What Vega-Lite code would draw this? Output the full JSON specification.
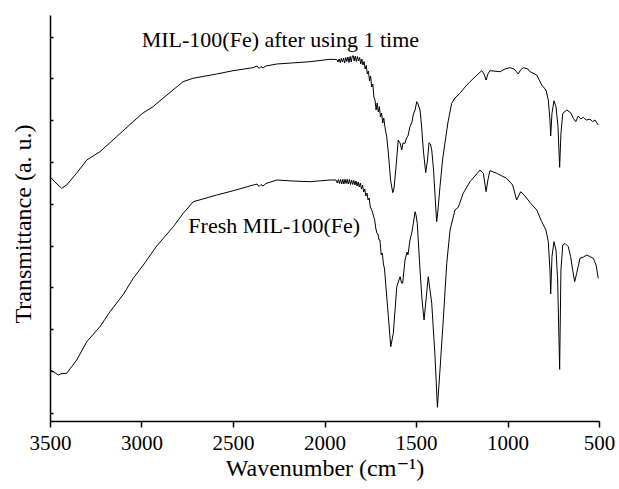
{
  "$schema": "https://vega.github.io/schema/vega-lite/v6.json",
  "width": 549,
  "height": 406,
  "autosize": "none",
  "padding": {"left": 50, "top": 15, "right": 20, "bottom": 68},
  "background": "white",
  "config": {
    "view": {"stroke": null},
    "font": "Liberation Serif",
    "axis": {
      "grid": false,
      "domainColor": "black",
      "tickColor": "black",
      "labelColor": "black",
      "titleColor": "black",
      "labelFont": "Liberation Serif",
      "titleFont": "Liberation Serif, DejaVu Serif, serif",
      "titleFontWeight": "normal",
      "domainWidth": 1.5,
      "tickWidth": 1.5
    }
  },
  "datasets": {
    "spectra": [
      {"s": "used", "wn": 3500, "t": 244.3},
      {"s": "used", "wn": 3473, "t": 239},
      {"s": "used", "wn": 3436, "t": 232.7},
      {"s": "used", "wn": 3409, "t": 236},
      {"s": "used", "wn": 3354, "t": 248},
      {"s": "used", "wn": 3299, "t": 261},
      {"s": "used", "wn": 3227, "t": 269.3},
      {"s": "used", "wn": 3136, "t": 284.3},
      {"s": "used", "wn": 3046, "t": 299.3},
      {"s": "used", "wn": 2992, "t": 308},
      {"s": "used", "wn": 2937, "t": 314.3},
      {"s": "used", "wn": 2883, "t": 322.7},
      {"s": "used", "wn": 2828, "t": 331},
      {"s": "used", "wn": 2773, "t": 339.3},
      {"s": "used", "wn": 2719, "t": 342.7},
      {"s": "used", "wn": 2589, "t": 347},
      {"s": "used", "wn": 2500, "t": 350.3},
      {"s": "used", "wn": 2391, "t": 353.3},
      {"s": "used", "wn": 2369, "t": 355},
      {"s": "used", "wn": 2358, "t": 352.5},
      {"s": "used", "wn": 2347, "t": 354.5},
      {"s": "used", "wn": 2336, "t": 353},
      {"s": "used", "wn": 2320, "t": 355},
      {"s": "used", "wn": 2261, "t": 357},
      {"s": "used", "wn": 2079, "t": 359.3},
      {"s": "used", "wn": 1970, "t": 361.7},
      {"s": "used", "wn": 1933, "t": 361.5},
      {"s": "used", "wn": 1926, "t": 359},
      {"s": "used", "wn": 1920, "t": 362},
      {"s": "used", "wn": 1914, "t": 358.5},
      {"s": "used", "wn": 1908, "t": 362.5},
      {"s": "used", "wn": 1902, "t": 359},
      {"s": "used", "wn": 1896, "t": 363},
      {"s": "used", "wn": 1890, "t": 358},
      {"s": "used", "wn": 1884, "t": 363.5},
      {"s": "used", "wn": 1878, "t": 359.5},
      {"s": "used", "wn": 1872, "t": 364},
      {"s": "used", "wn": 1866, "t": 358.5},
      {"s": "used", "wn": 1860, "t": 364.5},
      {"s": "used", "wn": 1854, "t": 359},
      {"s": "used", "wn": 1848, "t": 365},
      {"s": "used", "wn": 1843, "t": 365.3},
      {"s": "used", "wn": 1838, "t": 360},
      {"s": "used", "wn": 1832, "t": 365},
      {"s": "used", "wn": 1826, "t": 359.5},
      {"s": "used", "wn": 1820, "t": 364.5},
      {"s": "used", "wn": 1814, "t": 360},
      {"s": "used", "wn": 1808, "t": 363.5},
      {"s": "used", "wn": 1802, "t": 357},
      {"s": "used", "wn": 1796, "t": 362},
      {"s": "used", "wn": 1790, "t": 356},
      {"s": "used", "wn": 1784, "t": 359.5},
      {"s": "used", "wn": 1778, "t": 352},
      {"s": "used", "wn": 1772, "t": 355.5},
      {"s": "used", "wn": 1766, "t": 347},
      {"s": "used", "wn": 1760, "t": 350},
      {"s": "used", "wn": 1754, "t": 340},
      {"s": "used", "wn": 1748, "t": 345},
      {"s": "used", "wn": 1742, "t": 334},
      {"s": "used", "wn": 1736, "t": 337},
      {"s": "used", "wn": 1730, "t": 324},
      {"s": "used", "wn": 1724, "t": 321},
      {"s": "used", "wn": 1718, "t": 311},
      {"s": "used", "wn": 1712, "t": 318},
      {"s": "used", "wn": 1706, "t": 309},
      {"s": "used", "wn": 1700, "t": 314.3},
      {"s": "used", "wn": 1694, "t": 304},
      {"s": "used", "wn": 1688, "t": 308},
      {"s": "used", "wn": 1682, "t": 298},
      {"s": "used", "wn": 1676, "t": 303},
      {"s": "used", "wn": 1670, "t": 294.3},
      {"s": "used", "wn": 1664, "t": 288},
      {"s": "used", "wn": 1660, "t": 284.3},
      {"s": "used", "wn": 1651, "t": 268},
      {"s": "used", "wn": 1639, "t": 241},
      {"s": "used", "wn": 1627, "t": 228.3},
      {"s": "used", "wn": 1620, "t": 233},
      {"s": "used", "wn": 1609, "t": 254.3},
      {"s": "used", "wn": 1597, "t": 281},
      {"s": "used", "wn": 1587, "t": 278},
      {"s": "used", "wn": 1578, "t": 271},
      {"s": "used", "wn": 1571, "t": 278},
      {"s": "used", "wn": 1560, "t": 277.7},
      {"s": "used", "wn": 1552, "t": 283},
      {"s": "used", "wn": 1544, "t": 285},
      {"s": "used", "wn": 1533, "t": 294.3},
      {"s": "used", "wn": 1522, "t": 299},
      {"s": "used", "wn": 1514, "t": 307},
      {"s": "used", "wn": 1505, "t": 311},
      {"s": "used", "wn": 1496, "t": 319.3},
      {"s": "used", "wn": 1489, "t": 317},
      {"s": "used", "wn": 1478, "t": 311},
      {"s": "used", "wn": 1470, "t": 296},
      {"s": "used", "wn": 1460, "t": 271},
      {"s": "used", "wn": 1447, "t": 248.3},
      {"s": "used", "wn": 1437, "t": 261},
      {"s": "used", "wn": 1429, "t": 278.3},
      {"s": "used", "wn": 1421, "t": 277},
      {"s": "used", "wn": 1414, "t": 271},
      {"s": "used", "wn": 1404, "t": 251},
      {"s": "used", "wn": 1393, "t": 216},
      {"s": "used", "wn": 1387, "t": 199.3},
      {"s": "used", "wn": 1380, "t": 211},
      {"s": "used", "wn": 1369, "t": 234.3},
      {"s": "used", "wn": 1355, "t": 261},
      {"s": "used", "wn": 1342, "t": 277.7},
      {"s": "used", "wn": 1325, "t": 299},
      {"s": "used", "wn": 1305, "t": 317.7},
      {"s": "used", "wn": 1287, "t": 323},
      {"s": "used", "wn": 1260, "t": 327.7},
      {"s": "used", "wn": 1232, "t": 334},
      {"s": "used", "wn": 1205, "t": 339.3},
      {"s": "used", "wn": 1172, "t": 345},
      {"s": "used", "wn": 1141, "t": 350.3},
      {"s": "used", "wn": 1128, "t": 347},
      {"s": "used", "wn": 1117, "t": 341},
      {"s": "used", "wn": 1107, "t": 347},
      {"s": "used", "wn": 1096, "t": 350.3},
      {"s": "used", "wn": 1041, "t": 349.3},
      {"s": "used", "wn": 1014, "t": 352},
      {"s": "used", "wn": 986, "t": 353.3},
      {"s": "used", "wn": 964, "t": 352},
      {"s": "used", "wn": 941, "t": 347},
      {"s": "used", "wn": 929, "t": 351},
      {"s": "used", "wn": 913, "t": 353.3},
      {"s": "used", "wn": 888, "t": 352},
      {"s": "used", "wn": 877, "t": 349.3},
      {"s": "used", "wn": 840, "t": 346},
      {"s": "used", "wn": 813, "t": 336},
      {"s": "used", "wn": 790, "t": 331},
      {"s": "used", "wn": 777, "t": 321},
      {"s": "used", "wn": 768, "t": 301},
      {"s": "used", "wn": 764, "t": 285},
      {"s": "used", "wn": 757, "t": 307.7},
      {"s": "used", "wn": 746, "t": 320.3},
      {"s": "used", "wn": 735, "t": 314.3},
      {"s": "used", "wn": 724, "t": 294.3},
      {"s": "used", "wn": 715, "t": 253.7},
      {"s": "used", "wn": 708, "t": 287.7},
      {"s": "used", "wn": 698, "t": 307.7},
      {"s": "used", "wn": 676, "t": 311},
      {"s": "used", "wn": 655, "t": 308.3},
      {"s": "used", "wn": 640, "t": 302.7},
      {"s": "used", "wn": 627, "t": 299.3},
      {"s": "used", "wn": 613, "t": 305},
      {"s": "used", "wn": 600, "t": 302},
      {"s": "used", "wn": 586, "t": 303.7},
      {"s": "used", "wn": 570, "t": 301},
      {"s": "used", "wn": 549, "t": 301.7},
      {"s": "used", "wn": 535, "t": 299.5},
      {"s": "used", "wn": 522, "t": 301},
      {"s": "used", "wn": 504, "t": 296},

      {"s": "fresh", "wn": 3500, "t": 51},
      {"s": "fresh", "wn": 3478, "t": 49},
      {"s": "fresh", "wn": 3455, "t": 46},
      {"s": "fresh", "wn": 3434, "t": 47.5},
      {"s": "fresh", "wn": 3409, "t": 47.7},
      {"s": "fresh", "wn": 3354, "t": 61},
      {"s": "fresh", "wn": 3299, "t": 79.3},
      {"s": "fresh", "wn": 3227, "t": 94.3},
      {"s": "fresh", "wn": 3172, "t": 109.3},
      {"s": "fresh", "wn": 3099, "t": 126.7},
      {"s": "fresh", "wn": 3045, "t": 142.7},
      {"s": "fresh", "wn": 2990, "t": 156},
      {"s": "fresh", "wn": 2917, "t": 175},
      {"s": "fresh", "wn": 2826, "t": 194.3},
      {"s": "fresh", "wn": 2772, "t": 207.7},
      {"s": "fresh", "wn": 2717, "t": 219.3},
      {"s": "fresh", "wn": 2589, "t": 226},
      {"s": "fresh", "wn": 2498, "t": 230.3},
      {"s": "fresh", "wn": 2389, "t": 236},
      {"s": "fresh", "wn": 2369, "t": 237},
      {"s": "fresh", "wn": 2358, "t": 234.5},
      {"s": "fresh", "wn": 2347, "t": 236.5},
      {"s": "fresh", "wn": 2336, "t": 235},
      {"s": "fresh", "wn": 2320, "t": 237.5},
      {"s": "fresh", "wn": 2261, "t": 241},
      {"s": "fresh", "wn": 2172, "t": 240},
      {"s": "fresh", "wn": 2079, "t": 239.3},
      {"s": "fresh", "wn": 1970, "t": 241},
      {"s": "fresh", "wn": 1937, "t": 241},
      {"s": "fresh", "wn": 1930, "t": 238},
      {"s": "fresh", "wn": 1924, "t": 241.5},
      {"s": "fresh", "wn": 1918, "t": 237.5},
      {"s": "fresh", "wn": 1912, "t": 241.5},
      {"s": "fresh", "wn": 1906, "t": 237},
      {"s": "fresh", "wn": 1900, "t": 241.7},
      {"s": "fresh", "wn": 1894, "t": 237},
      {"s": "fresh", "wn": 1888, "t": 241.7},
      {"s": "fresh", "wn": 1882, "t": 237.5},
      {"s": "fresh", "wn": 1876, "t": 241.7},
      {"s": "fresh", "wn": 1870, "t": 237},
      {"s": "fresh", "wn": 1864, "t": 241.5},
      {"s": "fresh", "wn": 1858, "t": 236.5},
      {"s": "fresh", "wn": 1852, "t": 241},
      {"s": "fresh", "wn": 1846, "t": 236.5},
      {"s": "fresh", "wn": 1840, "t": 240.5},
      {"s": "fresh", "wn": 1834, "t": 236},
      {"s": "fresh", "wn": 1828, "t": 240},
      {"s": "fresh", "wn": 1822, "t": 235},
      {"s": "fresh", "wn": 1816, "t": 239},
      {"s": "fresh", "wn": 1810, "t": 234},
      {"s": "fresh", "wn": 1804, "t": 238},
      {"s": "fresh", "wn": 1798, "t": 232},
      {"s": "fresh", "wn": 1792, "t": 236},
      {"s": "fresh", "wn": 1786, "t": 229},
      {"s": "fresh", "wn": 1780, "t": 232},
      {"s": "fresh", "wn": 1774, "t": 225},
      {"s": "fresh", "wn": 1768, "t": 228},
      {"s": "fresh", "wn": 1762, "t": 221},
      {"s": "fresh", "wn": 1756, "t": 223},
      {"s": "fresh", "wn": 1750, "t": 214},
      {"s": "fresh", "wn": 1744, "t": 212},
      {"s": "fresh", "wn": 1738, "t": 209},
      {"s": "fresh", "wn": 1732, "t": 205},
      {"s": "fresh", "wn": 1726, "t": 201},
      {"s": "fresh", "wn": 1720, "t": 193},
      {"s": "fresh", "wn": 1714, "t": 188},
      {"s": "fresh", "wn": 1708, "t": 187},
      {"s": "fresh", "wn": 1702, "t": 181},
      {"s": "fresh", "wn": 1697, "t": 181},
      {"s": "fresh", "wn": 1690, "t": 166},
      {"s": "fresh", "wn": 1684, "t": 168},
      {"s": "fresh", "wn": 1678, "t": 157},
      {"s": "fresh", "wn": 1672, "t": 152},
      {"s": "fresh", "wn": 1666, "t": 138},
      {"s": "fresh", "wn": 1651, "t": 104.3},
      {"s": "fresh", "wn": 1638, "t": 74.3},
      {"s": "fresh", "wn": 1631, "t": 81},
      {"s": "fresh", "wn": 1624, "t": 87.7},
      {"s": "fresh", "wn": 1605, "t": 134.3},
      {"s": "fresh", "wn": 1587, "t": 144.3},
      {"s": "fresh", "wn": 1579, "t": 138},
      {"s": "fresh", "wn": 1573, "t": 137.7},
      {"s": "fresh", "wn": 1560, "t": 161},
      {"s": "fresh", "wn": 1549, "t": 169},
      {"s": "fresh", "wn": 1544, "t": 166},
      {"s": "fresh", "wn": 1533, "t": 181},
      {"s": "fresh", "wn": 1522, "t": 189},
      {"s": "fresh", "wn": 1516, "t": 196},
      {"s": "fresh", "wn": 1505, "t": 209.3},
      {"s": "fresh", "wn": 1500, "t": 206},
      {"s": "fresh", "wn": 1493, "t": 197.7},
      {"s": "fresh", "wn": 1478, "t": 151},
      {"s": "fresh", "wn": 1467, "t": 121},
      {"s": "fresh", "wn": 1456, "t": 101},
      {"s": "fresh", "wn": 1448, "t": 116},
      {"s": "fresh", "wn": 1433, "t": 144.3},
      {"s": "fresh", "wn": 1414, "t": 117.7},
      {"s": "fresh", "wn": 1396, "t": 64.3},
      {"s": "fresh", "wn": 1383, "t": 13.7},
      {"s": "fresh", "wn": 1369, "t": 51},
      {"s": "fresh", "wn": 1351, "t": 101},
      {"s": "fresh", "wn": 1332, "t": 157.7},
      {"s": "fresh", "wn": 1314, "t": 191},
      {"s": "fresh", "wn": 1287, "t": 211},
      {"s": "fresh", "wn": 1269, "t": 213.7},
      {"s": "fresh", "wn": 1242, "t": 227.7},
      {"s": "fresh", "wn": 1205, "t": 239.3},
      {"s": "fresh", "wn": 1178, "t": 245},
      {"s": "fresh", "wn": 1150, "t": 251},
      {"s": "fresh", "wn": 1132, "t": 247.7},
      {"s": "fresh", "wn": 1117, "t": 229.3},
      {"s": "fresh", "wn": 1107, "t": 241},
      {"s": "fresh", "wn": 1096, "t": 250.3},
      {"s": "fresh", "wn": 1059, "t": 247.7},
      {"s": "fresh", "wn": 1005, "t": 242.7},
      {"s": "fresh", "wn": 972, "t": 236},
      {"s": "fresh", "wn": 950, "t": 221},
      {"s": "fresh", "wn": 928, "t": 229.3},
      {"s": "fresh", "wn": 904, "t": 225},
      {"s": "fresh", "wn": 877, "t": 218.5},
      {"s": "fresh", "wn": 840, "t": 211},
      {"s": "fresh", "wn": 813, "t": 199.3},
      {"s": "fresh", "wn": 790, "t": 191},
      {"s": "fresh", "wn": 777, "t": 179.3},
      {"s": "fresh", "wn": 768, "t": 151},
      {"s": "fresh", "wn": 764, "t": 127},
      {"s": "fresh", "wn": 757, "t": 164.3},
      {"s": "fresh", "wn": 746, "t": 179.3},
      {"s": "fresh", "wn": 735, "t": 171},
      {"s": "fresh", "wn": 726, "t": 141},
      {"s": "fresh", "wn": 715, "t": 51.7},
      {"s": "fresh", "wn": 708, "t": 151},
      {"s": "fresh", "wn": 698, "t": 176},
      {"s": "fresh", "wn": 686, "t": 177.7},
      {"s": "fresh", "wn": 668, "t": 174.3},
      {"s": "fresh", "wn": 655, "t": 164.3},
      {"s": "fresh", "wn": 644, "t": 151},
      {"s": "fresh", "wn": 633, "t": 139.3},
      {"s": "fresh", "wn": 622, "t": 147.7},
      {"s": "fresh", "wn": 604, "t": 162.7},
      {"s": "fresh", "wn": 585, "t": 164},
      {"s": "fresh", "wn": 567, "t": 166},
      {"s": "fresh", "wn": 550, "t": 164.5},
      {"s": "fresh", "wn": 531, "t": 162.7},
      {"s": "fresh", "wn": 516, "t": 156},
      {"s": "fresh", "wn": 504, "t": 142.7}
    ],
    "labels": [
      {"wn": 2999, "t": 374.3, "label": "MIL-100(Fe) after using 1 time"},
      {"wn": 2744, "t": 187.7, "label": "Fresh MIL-100(Fe)"}
    ]
  },
  "layer": [
    {
      "data": {"name": "spectra"},
      "mark": {"type": "line", "color": "black", "strokeWidth": 1},
      "encoding": {
        "x": {
          "field": "wn",
          "type": "quantitative",
          "scale": {"domain": [500, 3500], "reverse": true, "nice": false, "zero": false},
          "axis": {
            "title": "Wavenumber (cm⁻¹)",
            "values": [3500, 3000, 2500, 2000, 1500, 1000, 500],
            "format": "d",
            "tickSize": 6,
            "labelPadding": 5,
            "labelFontSize": 21,
            "labelFlush": false,
            "labelOverlap": false,
            "titleFontSize": 24,
            "titleY": 54,
            "titleBaseline": "alphabetic"
          }
        },
        "y": {
          "field": "t",
          "type": "quantitative",
          "scale": {"domain": [0, 406], "nice": false, "zero": false},
          "axis": {
            "title": "Transmittance (a. u.)",
            "labels": false,
            "values": [8.3, 29.2, 50.1, 71.0, 91.9, 112.8, 133.7, 154.6, 175.5, 196.4, 217.3, 238.2, 259.1, 280.0, 300.9, 321.8, 342.7, 363.6, 384.5, 405.4],
            "tickSize": -3,
            "titleFontSize": 24,
            "titleX": -20,
            "titleY": 208.5,
            "titleBaseline": "alphabetic"
          }
        },
        "detail": {"field": "s"}
      }
    },
    {
      "data": {"name": "labels"},
      "mark": {"type": "text", "align": "left", "baseline": "alphabetic", "fontSize": 22, "font": "Liberation Serif", "color": "black"},
      "encoding": {
        "x": {"field": "wn", "type": "quantitative"},
        "y": {"field": "t", "type": "quantitative"},
        "text": {"field": "label"}
      }
    }
  ]
}
